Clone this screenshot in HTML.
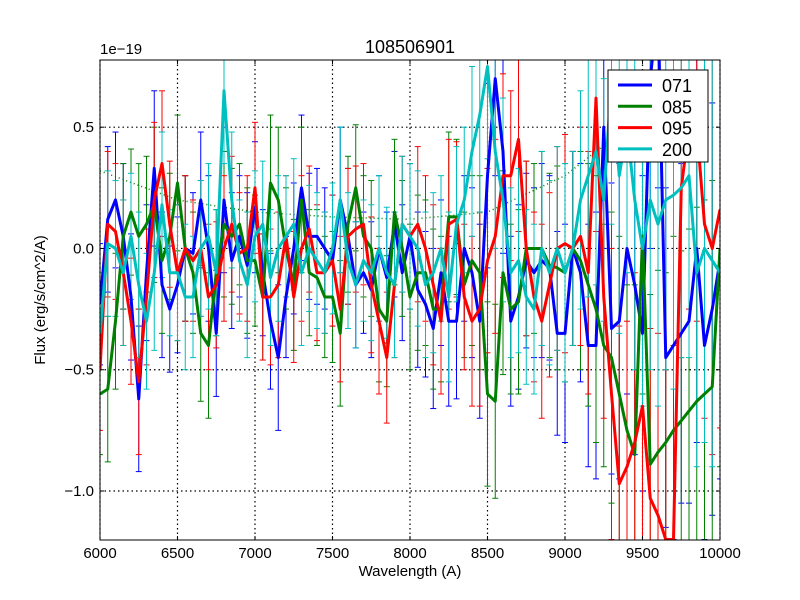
<!DOCTYPE html>
<html><head><meta charset="utf-8"><style>
html,body{margin:0;padding:0;width:800px;height:600px;overflow:hidden;background:#fff;}
svg{display:block;overflow:hidden;font-family:"Liberation Sans","DejaVu Sans",sans-serif;}
</style></head><body>
<svg id="c" width="800" height="600" viewBox="0 0 800 600" style="overflow:hidden"></svg>
<script>
const wave=[];for(let w=6000;w<=10000;w+=50)wave.push(w);
const s071=[-0.23,0.12,0.2,0.05,-0.2,-0.62,-0.1,0.33,-0.15,-0.25,-0.15,0.0,-0.02,0.2,0.0,-0.35,0.2,-0.05,0.05,-0.07,0.17,-0.1,-0.3,-0.45,-0.2,0.0,0.25,0.05,0.05,0.0,-0.05,0.2,0.05,-0.15,-0.1,-0.17,0.0,-0.12,0.1,-0.1,0.05,-0.17,-0.23,-0.33,-0.1,-0.3,-0.3,0.0,-0.1,-0.3,0.3,0.7,0.4,-0.3,-0.2,-0.05,-0.1,-0.05,-0.08,-0.35,-0.35,0.0,-0.1,-0.4,-0.4,0.5,-0.33,-0.3,0.0,-0.15,-0.35,0.7,1.0,-0.45,-0.4,-0.35,-0.3,0.0,-0.4,-0.25,-0.05];
const s085=[-0.6,-0.58,-0.3,0.05,0.15,0.05,0.1,0.18,-0.05,0.05,0.27,0.0,-0.1,-0.35,-0.4,-0.1,0.1,0.05,0.1,-0.05,-0.05,-0.2,0.27,0.2,0.0,-0.15,0.2,-0.1,-0.12,-0.2,-0.2,-0.35,0.1,0.25,0.05,0.0,-0.25,-0.3,0.15,0.0,-0.2,-0.1,-0.1,-0.25,-0.25,0.13,0.13,-0.15,-0.05,-0.1,-0.6,-0.63,-0.1,-0.25,-0.22,0.0,0.0,0.0,-0.07,-0.08,-0.1,0.0,-0.05,-0.15,-0.25,-0.4,-0.45,-0.6,-0.75,-0.85,0.05,-0.89,-0.84,-0.8,-0.75,-0.71,-0.67,-0.63,-0.6,-0.57,0.0];
const s095=[-0.5,0.1,0.07,-0.1,-0.3,-0.55,-0.2,0.2,0.35,0.1,-0.1,0.0,-0.05,0.0,-0.2,-0.15,0.0,0.1,-0.02,0.0,0.25,-0.2,-0.2,-0.15,0.05,-0.2,0.0,0.08,-0.1,-0.1,-0.05,-0.25,0.05,0.08,0.1,-0.15,-0.3,-0.45,-0.15,0.1,0.05,0.1,0.0,-0.15,-0.3,0.1,0.12,-0.2,-0.3,-0.25,-0.05,0.05,0.3,0.3,0.45,0.0,-0.2,-0.3,-0.15,0.0,0.02,0.0,0.05,-0.1,0.62,-0.2,-0.6,-0.97,-0.9,-0.8,-0.65,-1.03,-1.1,-1.2,-1.2,0.25,0.5,0.5,0.1,0.0,0.16];
const s200=[-0.35,0.02,0.0,-0.1,0.05,-0.15,-0.3,-0.1,0.18,-0.1,-0.1,-0.2,-0.2,0.0,0.05,-0.1,0.65,0.2,-0.05,-0.15,0.05,0.1,-0.12,0.0,0.05,0.1,-0.1,0.0,-0.05,-0.1,0.0,0.2,-0.05,-0.15,-0.05,-0.1,0.0,-0.1,-0.15,0.1,0.05,0.0,-0.15,-0.1,0.0,-0.2,0.1,0.2,0.4,0.55,0.75,0.4,0.2,-0.1,-0.05,-0.2,-0.25,0.0,-0.1,0.0,-0.1,0.0,0.2,0.3,0.4,0.2,0.7,0.3,0.5,0.2,0.0,0.2,0.1,0.2,0.22,0.25,0.3,-0.1,0.0,-0.05,-0.1];
const errs=[0.25,0.3,0.28,0.3,0.26,0.3,0.28,0.32,0.3,0.26,0.28,0.3,0.25,0.28,0.3,0.26,0.3,0.28,0.25,0.3,0.27,0.26,0.28,0.3,0.25,0.27,0.3,0.26,0.28,0.25,0.27,0.3,0.28,0.26,0.25,0.28,0.3,0.27,0.3,0.28,0.3,0.32,0.3,0.33,0.3,0.35,0.32,0.3,0.35,0.4,0.38,0.4,0.42,0.35,0.38,0.36,0.35,0.4,0.38,0.42,0.45,0.4,0.45,0.5,0.55,0.5,0.6,0.65,0.6,0.7,0.65,0.7,0.75,0.7,0.8,0.7,0.75,0.8,0.8,0.85,0.9];
const fitW=[6000,6500,7000,7500,8000,8500,9000,9300];
const fitV=[0.32,0.2,0.15,0.13,0.12,0.15,0.3,0.45];
const series=[["071","#0000ff",s071],["085","#008000",s085],["095","#ff0000",s095],["200","#00bfbf",s200]];
const xTicks=[6000,6500,7000,7500,8000,8500,9000,9500,10000];
const yTicks=[0.5,0.0,-0.5,-1.0];
const yTickLabels=["0.5","0.0","\u22120.5","\u22121.0"];
const L=100,R=720,T=60,B=540,X0=6000,X1=10000,Y0=-1.202,Y1=0.777;
const sx=w=>L+(w-X0)/(X1-X0)*(R-L), sy=v=>B-(v-Y0)/(Y1-Y0)*(B-T);
const cl=v=>Math.max(T-5,Math.min(B+5,v));
const NS="http://www.w3.org/2000/svg", svg=document.getElementById('c');
function mk(t,a,p){const e=document.createElementNS(NS,t);for(const k in a)e.setAttribute(k,a[k]);(p||svg).appendChild(e);return e;}
const defs=mk('defs',{});const cp=mk('clipPath',{id:'cp'},defs);mk('rect',{x:L,y:T,width:R-L,height:B-T},cp);
const grid=mk('g',{});


xTicks.forEach(w=>{mk('line',{x1:sx(w),x2:sx(w),y1:T,y2:B,stroke:'#000','stroke-dasharray':'1.5,3','stroke-width':1.2},grid);});
yTicks.forEach(v=>{mk('line',{x1:L,x2:R,y1:sy(v),y2:sy(v),stroke:'#000','stroke-dasharray':'1.5,3','stroke-width':1.2},grid);});
const plot=mk('g',{'clip-path':'url(#cp)'});
const fit=mk('polyline',{points:fitW.map((w,i)=>sx(w)+','+sy(fitV[i])).join(' '),fill:'none',stroke:'#008000','stroke-dasharray':'1,3','stroke-width':1.5},plot);


series.forEach(([n,c,vals])=>{
  const g=mk('g',{},plot);
  
  
  vals.forEach((v,i)=>{const x=sx(wave[i]),a=sy(v+errs[i]),b=sy(v-errs[i]);
    mk('line',{x1:x,x2:x,y1:cl(a),y2:cl(b),stroke:c,'stroke-width':1},g);
    if(a>=T&&a<=B)mk('line',{x1:x-3,x2:x+3,y1:a,y2:a,stroke:c,'stroke-width':1},g);
    if(b>=T&&b<=B)mk('line',{x1:x-3,x2:x+3,y1:b,y2:b,stroke:c,'stroke-width':1},g);});
});
series.forEach(([n,c,vals])=>{
  const p=mk('polyline',{points:vals.map((v,i)=>sx(wave[i])+','+sy(v)).join(' '),fill:'none',stroke:c,'stroke-width':3,'stroke-linejoin':'round'},plot);
  
  
});
mk('rect',{x:L,y:T,width:R-L,height:B-T,fill:'none',stroke:'#000','stroke-width':1});
xTicks.forEach(w=>{mk('line',{x1:sx(w),x2:sx(w),y1:B,y2:B-4,stroke:'#000'});mk('line',{x1:sx(w),x2:sx(w),y1:T,y2:T+4,stroke:'#000'});
  const t=mk('text',{x:sx(w),y:B+18,'text-anchor':'middle','font-size':15});t.textContent=w;
  
  });
yTicks.forEach((v,i)=>{mk('line',{x1:L,x2:L+4,y1:sy(v),y2:sy(v),stroke:'#000'});mk('line',{x1:R,x2:R-4,y1:sy(v),y2:sy(v),stroke:'#000'});
  const t=mk('text',{x:L-6,y:sy(v)+5,'text-anchor':'end','font-size':15});t.textContent=yTickLabels[i];
  
  });
const lg=mk('g',{});


mk('rect',{x:608,y:70,width:100,height:92,fill:'#fff',stroke:'#000'},lg);
series.forEach(([n,c],i)=>{const y=85+i*21.3;
  mk('line',{x1:618,x2:652,y1:y,y2:y,stroke:c,'stroke-width':3},lg);
  const t=mk('text',{x:662,y:y+7,'font-size':18},lg);t.textContent=n;
  
  });
const labels=[["chart-title",410,53,"108506901",18,"middle"],["y-scale-label",100,54,"1e\u221219",15,"start"],["x-axis-title",410,576,"Wavelength (A)",15,"middle"]];
labels.forEach(([nm,x,y,s,fs,an])=>{const t=mk('text',{x:x,y:y,'font-size':fs,'text-anchor':an});t.textContent=s;
  
  });
const yt=mk('text',{x:45,y:300,'font-size':15,'text-anchor':'middle',transform:'rotate(-90 45 300)'});yt.textContent="Flux (erg/s/cm^2/A)";


</script>
</body></html>
